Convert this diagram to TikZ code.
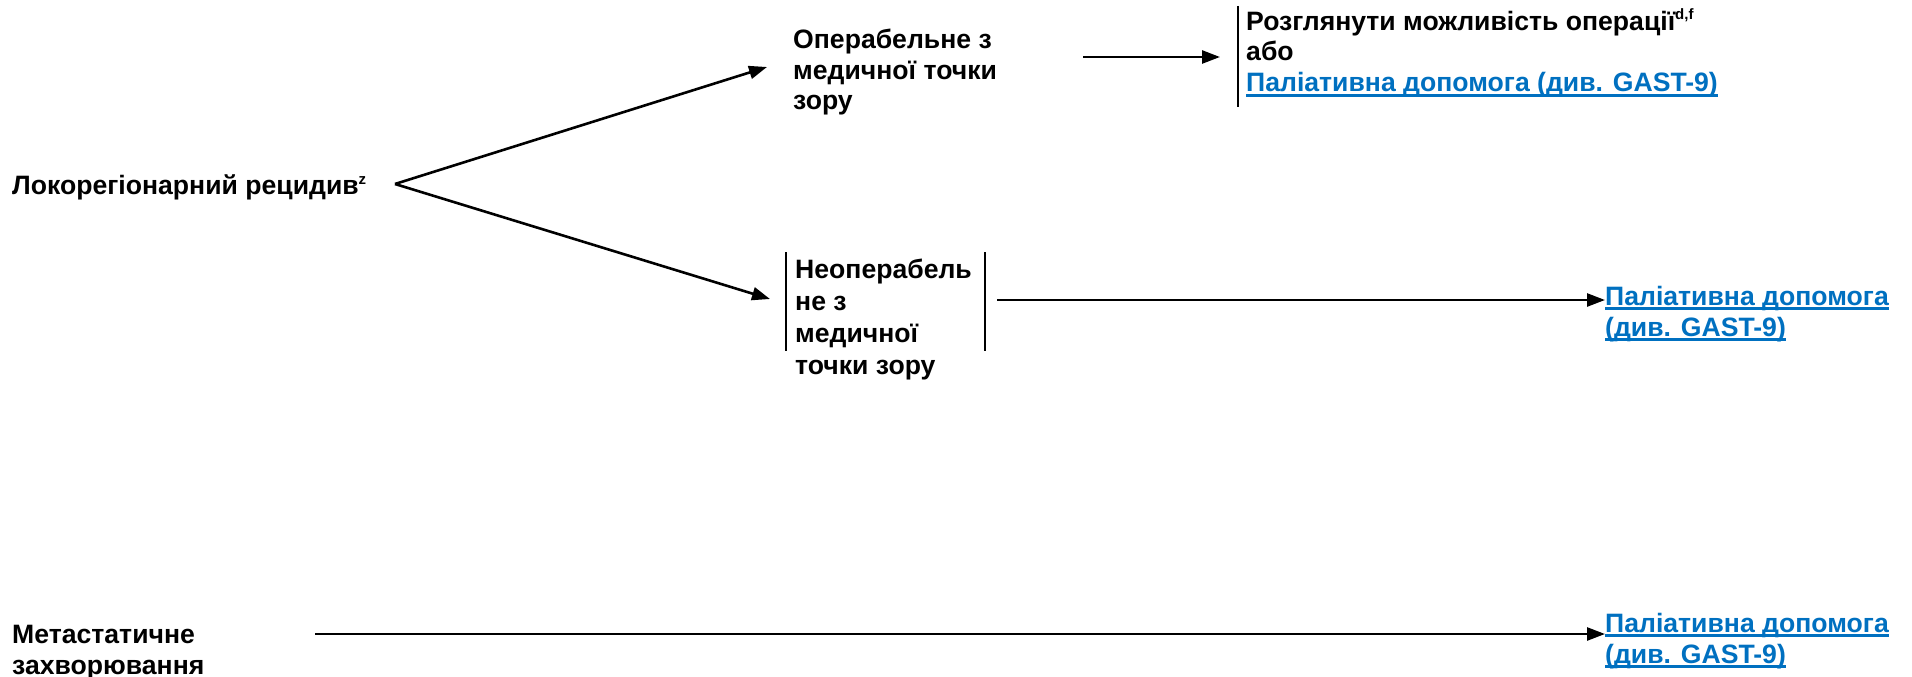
\documentclass[tikz,border=0pt]{standalone}
\usepackage{fontspec}
\setmainfont{Liberation Sans}
\usetikzlibrary{arrows.meta}
\definecolor{linkblue}{RGB}{0,112,192}
\newcommand\myul[1]{\setbox0\hbox{#1}\rlap{\color{linkblue}\rule[-5pt]{\wd0}{2.6pt}}\box0}
\newcommand\mysup[1]{\raisebox{10pt}{\fontsize{15}{15}\selectfont #1}}
\begin{document}
\begin{tikzpicture}[x=1pt,y=-1pt,
  txt/.style={anchor=base west, inner sep=0pt, align=left, font=\fontsize{26.6}{31}\selectfont\bfseries},
  lnk/.style={txt, text=linkblue},
  arr/.style={line width=2.6pt, -{Triangle[length=18pt,width=13pt]}},
  bar/.style={line width=2.4pt}]
\useasboundingbox (0,0) rectangle (1912,677);
\node[txt] (loco) at (12,194) {Локорегіонарний рецидив\mysup{z}};
\node[txt] (oper) at (793,110) {Операбельне з\\медичної точки\\зору};
\node[txt, font=\fontsize{26.6}{31}\selectfont\bfseries] (cons) at (1246,92) {Розглянути можливість операції\mysup{d,f}\\або\\\textcolor{linkblue}{\myul{Паліативна допомога (див. GAST-9)}}};
\node[txt, font=\fontsize{26.6}{32}\selectfont\bfseries] (nonoper) at (795,374) {Неоперабель\\не з\\медичної\\точки зору};
\node[lnk] (pal1) at (1605,336) {\myul{Паліативна допомога}\\\myul{(див. GAST-9)}};
\node[txt] (meta) at (12,674) {Метастатичне\\захворювання};
\node[lnk] (pal2) at (1605,663) {\myul{Паліативна допомога}\\\myul{(див. GAST-9)}};
\coordinate (fork) at (395,184);
\coordinate (t1) at (767,67);
\coordinate (t2) at (770,299);
\coordinate (a1) at (1083,57);
\coordinate (b1) at (1220,57);
\coordinate (a2) at (997,300);
\coordinate (a3) at (315,634);
\draw[arr] (fork) -- (t1);
\draw[arr] (fork) -- (t2);
\draw[arr] (a1) -- (b1);
\draw[arr] (a2) -- (pal1.west |- a2);
\draw[arr] (a3) -- (pal2.west |- a3);
\draw[bar] (1238,6) -- (1238,107);
\draw[bar] (786,252) -- (786,351);
\draw[bar] (985,252) -- (985,351);
\end{tikzpicture}
\end{document}
